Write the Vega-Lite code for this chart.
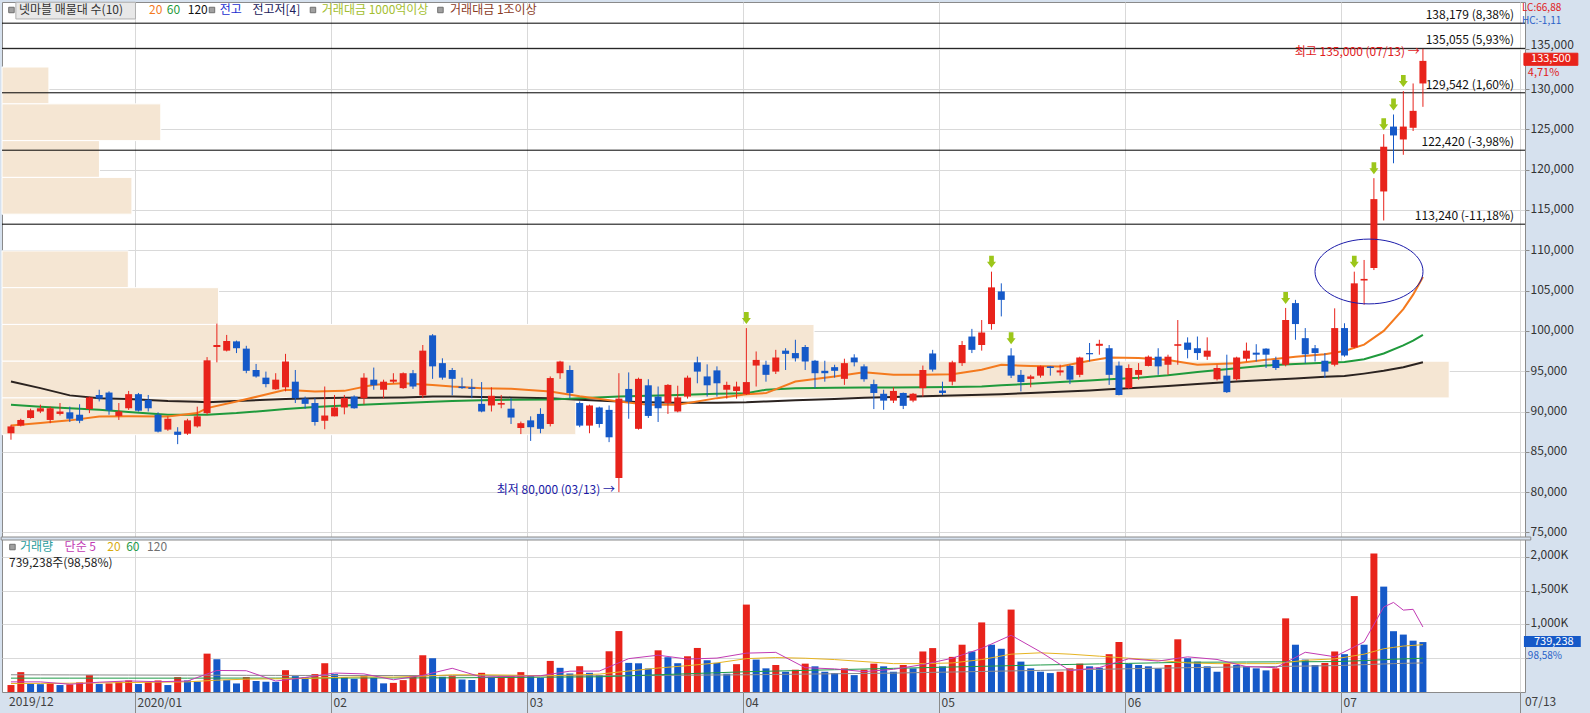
{
"$schema":"https://vega.github.io/schema/vega-lite/v6.json",
"width":1523,"height":690,
"autosize":{"type":"none"},
"padding":{"left":2,"top":2,"right":65,"bottom":21},
"background":"#d6e1ee",
"config":{
 "view":{"fill":"white","stroke":"#8a8a8a"},
 "font":"Noto Sans CJK KR",
 "axis":{"labelFont":"Noto Sans CJK KR","labelFontSize":12,"labelColor":"#333333","gridColor":"#d9d9d9","domainColor":"#8a8a8a","tickColor":"#8a8a8a"},
 "text":{"font":"Noto Sans CJK KR","fontSize":12}
},
"resolve":{"scale":{"x":"independent","y":"independent","color":"independent","fill":"independent","stroke":"independent"}},
"datasets":{
"k":[
{"n":0,"o":87300,"h":88350,"l":86500,"c":88150,"v":103},
{"n":1,"o":88250,"h":89100,"l":88150,"c":88950,"v":294},
{"n":2,"o":89200,"h":90350,"l":89100,"c":90150,"v":118},
{"n":3,"o":90000,"h":90850,"l":89800,"c":90400,"v":116},
{"n":4,"o":88950,"h":90600,"l":88550,"c":90400,"v":127},
{"n":5,"o":89700,"h":91050,"l":89500,"c":90000,"v":103},
{"n":6,"o":89900,"h":90600,"l":88700,"c":89100,"v":113},
{"n":7,"o":89600,"h":90900,"l":88550,"c":88850,"v":142},
{"n":8,"o":90300,"h":91850,"l":89800,"c":91750,"v":250},
{"n":9,"o":92050,"h":92700,"l":91250,"c":91600,"v":118},
{"n":10,"o":92350,"h":92500,"l":89600,"c":90150,"v":127},
{"n":11,"o":89450,"h":91050,"l":88950,"c":90000,"v":152},
{"n":12,"o":90400,"h":92550,"l":90200,"c":92150,"v":171},
{"n":13,"o":92150,"h":92300,"l":90000,"c":90100,"v":118},
{"n":14,"o":91450,"h":92050,"l":90000,"c":90400,"v":147},
{"n":15,"o":89600,"h":89900,"l":87400,"c":87500,"v":171},
{"n":16,"o":87750,"h":89400,"l":87600,"c":89100,"v":103},
{"n":17,"o":87500,"h":88050,"l":85950,"c":87100,"v":220},
{"n":18,"o":87250,"h":89100,"l":87100,"c":88900,"v":171},
{"n":19,"o":88150,"h":90600,"l":88000,"c":89400,"v":152},
{"n":20,"o":89800,"h":96750,"l":89600,"c":96350,"v":568},
{"n":21,"o":98000,"h":100900,"l":96100,"c":98250,"v":485},
{"n":22,"o":97550,"h":99500,"l":97450,"c":98750,"v":176},
{"n":23,"o":98700,"h":98800,"l":97250,"c":97850,"v":127},
{"n":24,"o":97800,"h":98150,"l":94750,"c":95050,"v":220},
{"n":25,"o":95150,"h":95900,"l":94200,"c":94350,"v":162},
{"n":26,"o":94200,"h":94950,"l":93000,"c":93400,"v":152},
{"n":27,"o":92750,"h":94750,"l":92700,"c":93950,"v":150},
{"n":28,"o":93000,"h":97150,"l":92500,"c":96200,"v":323},
{"n":29,"o":93700,"h":95150,"l":91050,"c":91650,"v":235},
{"n":30,"o":91600,"h":91850,"l":90350,"c":90950,"v":216},
{"n":31,"o":91050,"h":91650,"l":88250,"c":88700,"v":265},
{"n":32,"o":88850,"h":93100,"l":87800,"c":89500,"v":426},
{"n":33,"o":89400,"h":92050,"l":89400,"c":90500,"v":265},
{"n":34,"o":90500,"h":92050,"l":89650,"c":91650,"v":220},
{"n":35,"o":91850,"h":92000,"l":90350,"c":90400,"v":196},
{"n":36,"o":91650,"h":94750,"l":90900,"c":94200,"v":235},
{"n":37,"o":93950,"h":95450,"l":92700,"c":93250,"v":211},
{"n":38,"o":92700,"h":93950,"l":91650,"c":93700,"v":128},
{"n":39,"o":93700,"h":94750,"l":93500,"c":93950,"v":135},
{"n":40,"o":92900,"h":94850,"l":92800,"c":94750,"v":176},
{"n":41,"o":94750,"h":95150,"l":92800,"c":93100,"v":250},
{"n":42,"o":92000,"h":98250,"l":91650,"c":97550,"v":544},
{"n":43,"o":99450,"h":99600,"l":94050,"c":95600,"v":500},
{"n":44,"o":96000,"h":96600,"l":93950,"c":94200,"v":225},
{"n":45,"o":95150,"h":95400,"l":92000,"c":94050,"v":235},
{"n":46,"o":93100,"h":94200,"l":92800,"c":92900,"v":185},
{"n":47,"o":93000,"h":94050,"l":91650,"c":92800,"v":178},
{"n":48,"o":90950,"h":93650,"l":89900,"c":90000,"v":284},
{"n":49,"o":90750,"h":93000,"l":90000,"c":91950,"v":225},
{"n":50,"o":90850,"h":92050,"l":90400,"c":91050,"v":230},
{"n":51,"o":90350,"h":91650,"l":88450,"c":89250,"v":236},
{"n":52,"o":87950,"h":88750,"l":87200,"c":88550,"v":294},
{"n":53,"o":88900,"h":89400,"l":86350,"c":88050,"v":235},
{"n":54,"o":89700,"h":90400,"l":87300,"c":87850,"v":211},
{"n":55,"o":88450,"h":94350,"l":88150,"c":94150,"v":460},
{"n":56,"o":94750,"h":96300,"l":94050,"c":96200,"v":358},
{"n":57,"o":95150,"h":95700,"l":91650,"c":92300,"v":274},
{"n":58,"o":91050,"h":91250,"l":88050,"c":88250,"v":382},
{"n":59,"o":88250,"h":90850,"l":87300,"c":90750,"v":284},
{"n":60,"o":90500,"h":90600,"l":88000,"c":88450,"v":250},
{"n":61,"o":90200,"h":90750,"l":86200,"c":86800,"v":603},
{"n":62,"o":81750,"h":94750,"l":80000,"c":91600,"v":902},
{"n":63,"o":92800,"h":94850,"l":89100,"c":91250,"v":431},
{"n":64,"o":87850,"h":94200,"l":87750,"c":94050,"v":425},
{"n":65,"o":93250,"h":94000,"l":89200,"c":89450,"v":348},
{"n":66,"o":91850,"h":93100,"l":88700,"c":90400,"v":617},
{"n":67,"o":91050,"h":93400,"l":89700,"c":93300,"v":515},
{"n":68,"o":90000,"h":93200,"l":89900,"c":91750,"v":426},
{"n":69,"o":91850,"h":94450,"l":91600,"c":94200,"v":529},
{"n":70,"o":96100,"h":96800,"l":93500,"c":94950,"v":652},
{"n":71,"o":94350,"h":95850,"l":91850,"c":93250,"v":470},
{"n":72,"o":95100,"h":95600,"l":91850,"c":93500,"v":431},
{"n":73,"o":92700,"h":93700,"l":91600,"c":93300,"v":270},
{"n":74,"o":92550,"h":93700,"l":91600,"c":93100,"v":412},
{"n":75,"o":92150,"h":100350,"l":92050,"c":93650,"v":1294,"s":1},
{"n":76,"o":95700,"h":97450,"l":93100,"c":96400,"v":480},
{"n":77,"o":95800,"h":96300,"l":93700,"c":94550,"v":350},
{"n":78,"o":94950,"h":97650,"l":94650,"c":96700,"v":400},
{"n":79,"o":97550,"h":97850,"l":95150,"c":97150,"v":300},
{"n":80,"o":97250,"h":98900,"l":96200,"c":96600,"v":330},
{"n":81,"o":98000,"h":98250,"l":95150,"c":96200,"v":420},
{"n":82,"o":96300,"h":96400,"l":92900,"c":94750,"v":380},
{"n":83,"o":95050,"h":96300,"l":93700,"c":94750,"v":300},
{"n":84,"o":95500,"h":95800,"l":94200,"c":95050,"v":280},
{"n":85,"o":94050,"h":96550,"l":93300,"c":96000,"v":350},
{"n":86,"o":96700,"h":97100,"l":95600,"c":96100,"v":250},
{"n":87,"o":95600,"h":95850,"l":93700,"c":94000,"v":330},
{"n":88,"o":93400,"h":93950,"l":90300,"c":92300,"v":420},
{"n":89,"o":92200,"h":92700,"l":90200,"c":91350,"v":380},
{"n":90,"o":91350,"h":93000,"l":91050,"c":92550,"v":300},
{"n":91,"o":92300,"h":92350,"l":90300,"c":90700,"v":400},
{"n":92,"o":91350,"h":92300,"l":91150,"c":92200,"v":350},
{"n":93,"o":92900,"h":95700,"l":91850,"c":95150,"v":600},
{"n":94,"o":97200,"h":97650,"l":94950,"c":95200,"v":650},
{"n":95,"o":92600,"h":93700,"l":92050,"c":92300,"v":380},
{"n":96,"o":93700,"h":96300,"l":93250,"c":96100,"v":520},
{"n":97,"o":96000,"h":98750,"l":95650,"c":98250,"v":700},
{"n":98,"o":99300,"h":100250,"l":97250,"c":97650,"v":600},
{"n":99,"o":98250,"h":101350,"l":97550,"c":99800,"v":1030},
{"n":100,"o":100850,"h":107350,"l":100150,"c":105400,"v":700,"s":1},
{"n":101,"o":104900,"h":105900,"l":101800,"c":103850,"v":640},
{"n":102,"o":96950,"h":97850,"l":94150,"c":94450,"v":1220,"s":1},
{"n":103,"o":94550,"h":95150,"l":92500,"c":93650,"v":450},
{"n":104,"o":94050,"h":94550,"l":93000,"c":94350,"v":350},
{"n":105,"o":94450,"h":95700,"l":94200,"c":95600,"v":300},
{"n":106,"o":95600,"h":95650,"l":94450,"c":95400,"v":280},
{"n":107,"o":94850,"h":95800,"l":94450,"c":95100,"v":300},
{"n":108,"o":95650,"h":95800,"l":93400,"c":93950,"v":350},
{"n":109,"o":94550,"h":96800,"l":94250,"c":96700,"v":420},
{"n":110,"o":97250,"h":98500,"l":96200,"c":97100,"v":380},
{"n":111,"o":98150,"h":98900,"l":97050,"c":98400,"v":360},
{"n":112,"o":97850,"h":98250,"l":93300,"c":94550,"v":560},
{"n":113,"o":95700,"h":96200,"l":92000,"c":92050,"v":740},
{"n":114,"o":92900,"h":95850,"l":92800,"c":95400,"v":420},
{"n":115,"o":94550,"h":96000,"l":93950,"c":95150,"v":400},
{"n":116,"o":95650,"h":96950,"l":95600,"c":96800,"v":380},
{"n":117,"o":96800,"h":97850,"l":94550,"c":95600,"v":350},
{"n":118,"o":95800,"h":97050,"l":94550,"c":96800,"v":400},
{"n":119,"o":98150,"h":101350,"l":95800,"c":98350,"v":780},
{"n":120,"o":98550,"h":99200,"l":96600,"c":97650,"v":500},
{"n":121,"o":97850,"h":99300,"l":96400,"c":97250,"v":450},
{"n":122,"o":96800,"h":99200,"l":96400,"c":97550,"v":380},
{"n":123,"o":94000,"h":95800,"l":93850,"c":95400,"v":300},
{"n":124,"o":94450,"h":97050,"l":92300,"c":92400,"v":420},
{"n":125,"o":94000,"h":96800,"l":93850,"c":96700,"v":400},
{"n":126,"o":96550,"h":98550,"l":96200,"c":97550,"v":380},
{"n":127,"o":97300,"h":98350,"l":96200,"c":97050,"v":350},
{"n":128,"o":97800,"h":97850,"l":95400,"c":97050,"v":320},
{"n":129,"o":96400,"h":96800,"l":95150,"c":95400,"v":350},
{"n":130,"o":95800,"h":102850,"l":95600,"c":101350,"v":1090,"s":1},
{"n":131,"o":103450,"h":103850,"l":98900,"c":100850,"v":700},
{"n":132,"o":99100,"h":100350,"l":96000,"c":97100,"v":480},
{"n":133,"o":97850,"h":98250,"l":96200,"c":97250,"v":400},
{"n":134,"o":96300,"h":97250,"l":94150,"c":94950,"v":430},
{"n":135,"o":95800,"h":102800,"l":95600,"c":100350,"v":600},
{"n":136,"o":100350,"h":100950,"l":96800,"c":96950,"v":560},
{"n":137,"o":97950,"h":107350,"l":97850,"c":105900,"v":1420,"s":1},
{"n":138,"o":106250,"h":108800,"l":103250,"c":106450,"v":700},
{"n":139,"o":107800,"h":118950,"l":107550,"c":116350,"v":2050,"s":1},
{"n":140,"o":117300,"h":124400,"l":113700,"c":122850,"v":1560,"s":1},
{"n":141,"o":125350,"h":126850,"l":120800,"c":124250,"v":900,"s":1},
{"n":142,"o":123750,"h":129750,"l":121850,"c":125350,"v":850,"s":1},
{"n":143,"o":125200,"h":130700,"l":124800,"c":127300,"v":760},
{"n":144,"o":130700,"h":135000,"l":127800,"c":133500,"v":739}
],
"ma":[
{"n":0,"a20":88270,"a60":90830,"a120":93725},
{"n":3,"a20":88560,"a60":90600,"a120":92900},
{"n":6,"a20":88900,"a60":90400,"a120":92000},
{"n":9,"a20":89390,"a60":90210,"a120":91650},
{"n":12,"a20":89400,"a60":89950,"a120":91550},
{"n":16,"a20":89390,"a60":89590,"a120":91300},
{"n":19,"a20":89800,"a60":89590,"a120":91200},
{"n":20,"a20":90420,"a60":89590,"a120":91160},
{"n":23,"a20":91250,"a60":89800,"a120":91300},
{"n":26,"a20":92100,"a60":90100,"a120":91450},
{"n":28,"a20":92690,"a60":90300,"a120":91550},
{"n":31,"a20":92480,"a60":90550,"a120":91650},
{"n":34,"a20":92560,"a60":90750,"a120":91700},
{"n":37,"a20":93310,"a60":90900,"a120":91700},
{"n":40,"a20":93520,"a60":91040,"a120":91750},
{"n":43,"a20":93300,"a60":91200,"a120":91850},
{"n":45,"a20":93100,"a60":91300,"a120":91850},
{"n":48,"a20":92900,"a60":91400,"a120":91800},
{"n":51,"a20":92816,"a60":91450,"a120":91750},
{"n":55,"a20":92485,"a60":91500,"a120":91650},
{"n":58,"a20":91900,"a60":91650,"a120":91450},
{"n":62,"a20":91245,"a60":91865,"a120":91250},
{"n":65,"a20":90832,"a60":91950,"a120":91150},
{"n":68,"a20":90832,"a60":92050,"a120":91100},
{"n":72,"a20":91658,"a60":92200,"a120":91100},
{"n":75,"a20":92154,"a60":92278,"a120":91150},
{"n":77,"a20":92280,"a60":92700,"a120":91250},
{"n":80,"a20":93725,"a60":92900,"a120":91400},
{"n":84,"a20":94345,"a60":92950,"a120":91550},
{"n":87,"a20":94882,"a60":92980,"a120":91700},
{"n":90,"a20":94551,"a60":92980,"a120":91800},
{"n":93,"a20":94551,"a60":93000,"a120":91900},
{"n":96,"a20":94630,"a60":93050,"a120":92000},
{"n":99,"a20":95171,"a60":93105,"a120":92072},
{"n":101,"a20":95791,"a60":93250,"a120":92150},
{"n":104,"a20":95650,"a60":93450,"a120":92300},
{"n":107,"a20":95585,"a60":93650,"a120":92450},
{"n":110,"a20":96300,"a60":93850,"a120":92600},
{"n":112,"a20":96701,"a60":94000,"a120":92750},
{"n":115,"a20":96650,"a60":94200,"a120":92950},
{"n":118,"a20":96400,"a60":94500,"a120":93150},
{"n":121,"a20":95791,"a60":94900,"a120":93400},
{"n":125,"a20":96000,"a60":95378,"a120":93725},
{"n":128,"a20":96411,"a60":95700,"a120":93900},
{"n":131,"a20":96800,"a60":95900,"a120":94100},
{"n":134,"a20":97100,"a60":96050,"a120":94300},
{"n":136,"a20":97500,"a60":96150,"a120":94400},
{"n":138,"a20":98300,"a60":96494,"a120":94700},
{"n":140,"a20":100000,"a60":97200,"a120":95050},
{"n":142,"a20":102700,"a60":98200,"a120":95500},
{"n":143,"a20":104500,"a60":98800,"a120":95800},
{"n":144,"a20":106700,"a60":99500,"a120":96100}
],
"vm":[
{"n":0,"m5":150,"m20":125,"m60":205,"m120":255},
{"n":3,"m5":150,"m20":128,"m60":205,"m120":254},
{"n":6,"m5":115,"m20":130,"m60":205,"m120":253},
{"n":9,"m5":145,"m20":135,"m60":205,"m120":252},
{"n":12,"m5":164,"m20":140,"m60":205,"m120":251},
{"n":15,"m5":152,"m20":145,"m60":205,"m120":250},
{"n":18,"m5":162,"m20":150,"m60":205,"m120":249},
{"n":21,"m5":319,"m20":175,"m60":206,"m120":248},
{"n":24,"m5":315,"m20":190,"m60":206,"m120":247},
{"n":27,"m5":162,"m20":195,"m60":206,"m120":246},
{"n":30,"m5":215,"m20":200,"m60":206,"m120":245},
{"n":33,"m5":281,"m20":215,"m60":207,"m120":245},
{"n":36,"m5":268,"m20":225,"m60":208,"m120":244},
{"n":39,"m5":181,"m20":220,"m60":208,"m120":244},
{"n":42,"m5":247,"m20":235,"m60":209,"m120":243},
{"n":45,"m5":351,"m20":255,"m60":210,"m120":243},
{"n":48,"m5":221,"m20":255,"m60":213,"m120":242},
{"n":51,"m5":231,"m20":250,"m60":216,"m120":242},
{"n":54,"m5":241,"m20":240,"m60":219,"m120":241},
{"n":57,"m5":308,"m20":250,"m60":222,"m120":241},
{"n":60,"m5":310,"m20":265,"m60":225,"m120":240},
{"n":63,"m5":494,"m20":310,"m60":240,"m120":243},
{"n":66,"m5":545,"m20":355,"m60":255,"m120":246},
{"n":69,"m5":487,"m20":390,"m60":270,"m120":249},
{"n":72,"m5":502,"m20":430,"m60":285,"m120":252},
{"n":75,"m5":575,"m20":494,"m60":300,"m120":255},
{"n":78,"m5":587,"m20":510,"m60":310,"m120":260},
{"n":81,"m5":360,"m20":500,"m60":320,"m120":265},
{"n":84,"m5":342,"m20":480,"m60":330,"m120":270},
{"n":87,"m5":302,"m20":450,"m60":340,"m120":275},
{"n":90,"m5":336,"m20":420,"m60":350,"m120":280},
{"n":93,"m5":406,"m20":420,"m60":360,"m120":288},
{"n":96,"m5":500,"m20":430,"m60":370,"m120":296},
{"n":99,"m5":646,"m20":480,"m60":380,"m120":304},
{"n":102,"m5":840,"m20":560,"m60":390,"m120":312},
{"n":105,"m5":594,"m20":580,"m60":400,"m120":320},
{"n":108,"m5":316,"m20":560,"m60":408,"m120":328},
{"n":111,"m5":362,"m20":530,"m60":416,"m120":336},
{"n":114,"m5":492,"m20":500,"m60":424,"m120":344},
{"n":117,"m5":458,"m20":470,"m60":432,"m120":352},
{"n":120,"m5":520,"m20":430,"m60":440,"m120":360},
{"n":123,"m5":482,"m20":420,"m60":442,"m120":366},
{"n":126,"m5":376,"m20":420,"m60":444,"m120":372},
{"n":129,"m5":360,"m20":420,"m60":446,"m120":378},
{"n":132,"m5":588,"m20":470,"m60":448,"m120":384},
{"n":135,"m5":522,"m20":490,"m60":450,"m120":390},
{"n":138,"m5":742,"m20":560,"m60":465,"m120":405},
{"n":140,"m5":1258,"m20":640,"m60":478,"m120":415},
{"n":141,"m5":1326,"m20":660,"m60":485,"m120":420},
{"n":142,"m5":1212,"m20":680,"m60":490,"m120":424},
{"n":143,"m5":1224,"m20":690,"m60":495,"m120":427},
{"n":144,"m5":962,"m20":700,"m60":500,"m120":430}
],
"prof":[
{"lo":128611,"hi":133251,"pct":1.3},
{"lo":123983,"hi":128611,"pct":4.4},
{"lo":119355,"hi":123983,"pct":2.7},
{"lo":114727,"hi":119355,"pct":3.6},
{"lo":105471,"hi":110099,"pct":3.5},
{"lo":100844,"hi":105471,"pct":6.0},
{"lo":96216,"hi":100844,"pct":22.5},
{"lo":91588,"hi":96216,"pct":40.1},
{"lo":86960,"hi":91588,"pct":15.9}
],
"lv":[
{"n":153.3,"p":138179,"t":"138,179 (8,38%)"},
{"n":153.3,"p":135055,"t":"135,055 (5,93%)"},
{"n":153.3,"p":129542,"t":"129,542 (1,60%)"},
{"n":153.3,"p":122420,"t":"122,420 (-3,98%)"},
{"n":153.3,"p":113240,"t":"113,240 (-11,18%)"}
],
"ell":[{"n":138.5,"p":107370}],
"sep":[{"n1":-1,"n2":155,"p1":74057,"p2":74429}],
"bx":[
{"n1":0.5,"n2":12.7,"p1":138700,"p2":140780,"k":"hdr"},
{"n1":154.3,"n2":159.8,"p1":132950,"p2":134450,"k":"cur"}
],
"bp":[
{"n":0.05,"p":139814},
{"n":20.5,"p":139814},
{"n":30.8,"p":139814},
{"n":43.8,"p":139814}
],
"tp":[
{"n":143.67,"p":134603,"t":"최고 135,000 (07/13) →","k":"red","a":"r"},
{"n":61.6,"p":80261,"t":"최저 80,000 (03/13) →","k":"navy","a":"r"},
{"n":0.81,"p":139814,"t":"넷마블 매물대 수(10)","k":"dk","a":"l"},
{"n":14.08,"p":139814,"t":"20","k":"o20","a":"l"},
{"n":15.9,"p":139814,"t":"60","k":"g60","a":"l"},
{"n":18.03,"p":139814,"t":"120","k":"blk","a":"l"},
{"n":21.28,"p":139814,"t":"전고","k":"blue","a":"l"},
{"n":24.62,"p":139814,"t":"전고저[4]","k":"dnav","a":"l"},
{"n":31.7,"p":139814,"t":"거래대금 1000억이상","k":"yg","a":"l"},
{"n":44.78,"p":139814,"t":"거래대금 1조이상","k":"brn","a":"l"},
{"n":154.1,"p":140062,"t":"LC:66,88","k":"red","a":"t"},
{"n":154.1,"p":138449,"t":"HC:-1,11","k":"hcb","a":"t"},
{"n":154.7,"p":132050,"t":"4,71%","k":"red","a":"s"},
{"n":157.05,"p":133700,"t":"133,500","k":"wht","a":"c"}
],
"bv":[{"n1":154.3,"n2":160.1,"p1":665,"p2":828}],
"bvb":[{"n":0.15,"p":2146}],
"tv":[
{"n":0.91,"p":2146,"t":"거래량","k":"teal","a":"l"},
{"n":5.47,"p":2146,"t":"단순 5","k":"mag","a":"l"},
{"n":9.83,"p":2146,"t":"20","k":"yel","a":"l"},
{"n":11.75,"p":2146,"t":"60","k":"grn","a":"l"},
{"n":13.88,"p":2146,"t":"120","k":"gry","a":"l"},
{"n":-0.2,"p":1914,"t":"739,238주(98,58%)","k":"blk","a":"l"},
{"n":157.35,"p":746,"t":"739,238","k":"wht","a":"c"},
{"n":154.7,"p":540,"t":"98,58%","k":"vblue","a":"t"},
{"n":154.4,"p":-146,"t":"07/13","k":"axl","a":"l"},
{"n":-0.2,"p":-146,"t":"2019/12","k":"axl","a":"l"}
]
},
"layer":[
 {"data":{"name":"prof"},
  "mark":{"type":"bar","orient":"horizontal","fill":"#f5e6d3","stroke":"white","strokeWidth":1},
  "encoding":{
   "x":{"field":"pct","type":"quantitative","title":null,"scale":{"domain":[0,42.2],"nice":false},"axis":null},
   "y":{"field":"lo","type":"quantitative","title":null,"scale":{"domain":[55199,140806],"nice":false,"zero":false},"axis":null},
   "y2":{"field":"hi"}
  }},
 {"resolve":{"scale":{"color":"independent","fill":"independent","stroke":"independent"}},
  "layer":[
   {"data":{"name":"lv"},"mark":{"type":"rule","color":"#000000","strokeWidth":1},
    "encoding":{"y":{"field":"p","type":"quantitative","title":null,"scale":{"domain":[55199,140806],"nice":false,"zero":false},
      "axis":{"orient":"right","values":[75000,80000,85000,90000,95000,100000,105000,110000,115000,120000,125000,130000,135000],"labelExpr":"format(datum.value, ',')","labelOffset":{"condition":{"test":"datum.value == 135000","value":-4},"value":-1},"grid":true,"tickSize":4,"labelPadding":1,"domain":false,"title":null}}}},
   {"data":{"name":"lv"},"mark":{"type":"text","align":"right","baseline":"middle","dy":-8,"color":"#111111"},
    "encoding":{"x":{"field":"n","type":"quantitative","title":null},"y":{"field":"p","type":"quantitative","title":null},"text":{"field":"t"}}},
   {"data":{"name":"ma"},"transform":[{"fold":["a120","a60","a20"],"as":["k","val"]}],
    "mark":{"type":"line","strokeWidth":2},
    "encoding":{"x":{"field":"n","type":"quantitative","title":null},"y":{"field":"val","type":"quantitative","title":null},
     "color":{"field":"k","type":"nominal","scale":{"domain":["a120","a60","a20"],"range":["#2b2320","#1f9a3c","#f47a1e"]},"legend":null}}},
   {"data":{"name":"k"},"mark":{"type":"rule","strokeWidth":1},
    "encoding":{
     "x":{"field":"n","type":"quantitative","title":null,"scale":{"domain":[-0.405,153.9],"nice":false,"zero":false},"axis":null},
     "y":{"field":"l","type":"quantitative","title":null},"y2":{"field":"h"},
     "color":{"condition":{"test":"datum.c >= datum.o","value":"#e8231b"},"value":"#1559c8"}}},
   {"data":{"name":"k"},"mark":{"type":"bar","size":7},
    "encoding":{"x":{"field":"n","type":"quantitative","title":null},
     "y":{"field":"o","type":"quantitative","title":null},"y2":{"field":"c"},
     "color":{"condition":{"test":"datum.c >= datum.o","value":"#e8231b"},"value":"#1559c8"}}},
   {"data":{"name":"k"},"transform":[{"filter":"datum.s == 1"}],
    "mark":{"type":"point","shape":"M -0.39 -1 L 0.39 -1 L 0.39 0 L 0.75 0 L 0 1 L -0.75 0 L -0.39 0 Z","size":144,"filled":true,"color":"#9cc61a","opacity":1,"yOffset":-10},
    "encoding":{"x":{"field":"n","type":"quantitative","title":null},"y":{"field":"h","type":"quantitative","title":null}}},
   {"data":{"name":"ell"},
    "mark":{"type":"point","shape":"M -1 0 A 1 0.6 0 1 1 1 0 A 1 0.6 0 1 1 -1 0 Z","size":11664,"filled":false,"stroke":"#1c1caa","strokeWidth":1,"opacity":1},
    "encoding":{"x":{"field":"n","type":"quantitative","title":null},"y":{"field":"p","type":"quantitative","title":null}}},
   {"data":{"name":"sep"},"mark":{"type":"rect","fill":"#d6e1ee","stroke":"#8a8a8a","strokeWidth":1},
    "encoding":{"x":{"field":"n1","type":"quantitative","title":null},"x2":{"field":"n2"},"y":{"field":"p1","type":"quantitative","title":null},"y2":{"field":"p2"}}},
   {"data":{"name":"bx"},"mark":{"type":"rect","strokeWidth":1},
    "encoding":{"x":{"field":"n1","type":"quantitative","title":null},"x2":{"field":"n2"},
     "y":{"field":"p1","type":"quantitative","title":null},"y2":{"field":"p2"},
     "fill":{"field":"k","type":"nominal","scale":{"domain":["hdr","cur"],"range":["#e8e8e8","#e8231b"]},"legend":null},
     "stroke":{"field":"k","type":"nominal","scale":{"domain":["hdr","cur"],"range":["#b0b0b0","#e8231b"]},"legend":null}}},
   {"data":{"name":"bp"},"mark":{"type":"point","shape":"square","size":30,"filled":true,"color":"#a0a0a0","stroke":"#707070","strokeWidth":1,"opacity":1},
    "encoding":{"x":{"field":"n","type":"quantitative","title":null},"y":{"field":"p","type":"quantitative","title":null}}},
   {"data":{"name":"tp"},"transform":[{"filter":"datum.a == 'r'"}],
    "mark":{"type":"text","align":"right","baseline":"middle"},
    "encoding":{"x":{"field":"n","type":"quantitative","title":null},"y":{"field":"p","type":"quantitative","title":null},"text":{"field":"t"},
     "color":{"field":"k","type":"nominal","legend":null,"scale":{"domain":["red","navy","dk","o20","g60","blk","blue","dnav","yg","brn","hcb","wht"],"range":["#e0201c","#1a1aa6","#333333","#f47a1e","#1f9a3c","#111111","#1a2fd0","#20205a","#a3be2e","#8a3b1f","#2a62c8","#ffffff"]}}}},
   {"data":{"name":"tp"},"transform":[{"filter":"datum.a == 'l'"}],
    "mark":{"type":"text","align":"left","baseline":"middle"},
    "encoding":{"x":{"field":"n","type":"quantitative","title":null},"y":{"field":"p","type":"quantitative","title":null},"text":{"field":"t"},
     "color":{"field":"k","type":"nominal","legend":null,"scale":{"domain":["red","navy","dk","o20","g60","blk","blue","dnav","yg","brn","hcb","wht"],"range":["#e0201c","#1a1aa6","#333333","#f47a1e","#1f9a3c","#111111","#1a2fd0","#20205a","#a3be2e","#8a3b1f","#2a62c8","#ffffff"]}}}},
   {"data":{"name":"tp"},"transform":[{"filter":"datum.a == 's'"}],
    "mark":{"type":"text","align":"left","baseline":"middle","fontSize":11},
    "encoding":{"x":{"field":"n","type":"quantitative","title":null},"y":{"field":"p","type":"quantitative","title":null},"text":{"field":"t"},
     "color":{"field":"k","type":"nominal","legend":null,"scale":{"domain":["red","navy","dk","o20","g60","blk","blue","dnav","yg","brn","hcb","wht"],"range":["#e0201c","#1a1aa6","#333333","#f47a1e","#1f9a3c","#111111","#1a2fd0","#20205a","#a3be2e","#8a3b1f","#2a62c8","#ffffff"]}}}},
   {"data":{"name":"tp"},"transform":[{"filter":"datum.a == 't'"}],
    "mark":{"type":"text","align":"left","baseline":"middle","fontSize":10},
    "encoding":{"x":{"field":"n","type":"quantitative","title":null},"y":{"field":"p","type":"quantitative","title":null},"text":{"field":"t"},
     "color":{"field":"k","type":"nominal","legend":null,"scale":{"domain":["red","navy","dk","o20","g60","blk","blue","dnav","yg","brn","hcb","wht"],"range":["#e0201c","#1a1aa6","#333333","#f47a1e","#1f9a3c","#111111","#1a2fd0","#20205a","#a3be2e","#8a3b1f","#2a62c8","#ffffff"]}}}},
   {"data":{"name":"tp"},"transform":[{"filter":"datum.a == 'c'"}],
    "mark":{"type":"text","align":"center","baseline":"middle","fontSize":11},
    "encoding":{"x":{"field":"n","type":"quantitative","title":null},"y":{"field":"p","type":"quantitative","title":null},"text":{"field":"t"},
     "color":{"field":"k","type":"nominal","legend":null,"scale":{"domain":["red","navy","dk","o20","g60","blk","blue","dnav","yg","brn","hcb","wht"],"range":["#e0201c","#1a1aa6","#333333","#f47a1e","#1f9a3c","#111111","#1a2fd0","#20205a","#a3be2e","#8a3b1f","#2a62c8","#ffffff"]}}}}
  ]},
 {"resolve":{"scale":{"color":"independent"}},
  "layer":[
   {"data":{"name":"k"},
    "transform":[{"window":[{"op":"lag","field":"v","as":"pv"}],"sort":[{"field":"n"}]}],
    "mark":{"type":"bar","size":7},
    "encoding":{
     "x":{"field":"n","type":"quantitative","title":null,"scale":{"domain":[-0.405,153.9],"nice":false,"zero":false},
          "axis":{"orient":"bottom","values":[12.65,32.65,52.65,74.65,94.65,113.65,135.65,153.9],
                  "labelExpr":"datum.value < 13 ? '2020/01' : datum.value < 33 ? '02' : datum.value < 53 ? '03' : datum.value < 75 ? '04' : datum.value < 95 ? '05' : datum.value < 114 ? '06' : datum.value < 140 ? '07' : ''",
                  "grid":true,"tickSize":21,"labelPadding":-11,"labelBaseline":"middle","labelAlign":"left","labelOffset":2,"labelFlush":false,"labelOverlap":false,"labelBound":false,"domain":false,"title":null,"labelColor":"#404040"}},
     "y":{"field":"v","type":"quantitative","title":null,"scale":{"domain":[0,10214],"nice":false},
          "axis":{"orient":"right","values":[500,1000,1500,2000],"labelExpr":"datum.value == 500 ? '' : format(datum.value, ',') + 'K'","labelOffset":-2,"grid":true,"tickSize":4,"labelPadding":1,"domain":false,"title":null}},
     "color":{"condition":{"test":"datum.pv == null || datum.v > datum.pv","value":"#e8231b"},"value":"#1559c8"}}},
   {"data":{"name":"vm"},"transform":[{"fold":["m120","m60","m20","m5"],"as":["k","val"]}],
    "mark":{"type":"line","strokeWidth":1},
    "encoding":{"x":{"field":"n","type":"quantitative","title":null},"y":{"field":"val","type":"quantitative","title":null},
     "color":{"field":"k","type":"nominal","legend":null,"scale":{"domain":["m120","m60","m20","m5"],"range":["#8c8c8c","#1f9a48","#e6b422","#c23bb4"]}}}},
   {"data":{"name":"bv"},"mark":{"type":"rect","fill":"#1559c8"},
    "encoding":{"x":{"field":"n1","type":"quantitative","title":null},"x2":{"field":"n2"},"y":{"field":"p1","type":"quantitative","title":null},"y2":{"field":"p2"}}},
   {"data":{"name":"bvb"},"mark":{"type":"point","shape":"square","size":30,"filled":true,"color":"#a0a0a0","stroke":"#707070","strokeWidth":1,"opacity":1},
    "encoding":{"x":{"field":"n","type":"quantitative","title":null},"y":{"field":"p","type":"quantitative","title":null}}},
   {"data":{"name":"tv"},"transform":[{"filter":"datum.a == 'l'"}],
    "mark":{"type":"text","align":"left","baseline":"middle"},
    "encoding":{"x":{"field":"n","type":"quantitative","title":null},"y":{"field":"p","type":"quantitative","title":null},"text":{"field":"t"},
     "color":{"field":"k","type":"nominal","legend":null,"scale":{"domain":["teal","mag","yel","grn","gry","blk","wht","vblue","axl"],"range":["#2a9d9d","#c23bb4","#d8ac10","#1f9a48","#707070","#222222","#ffffff","#2a62c8","#404040"]}}}},
   {"data":{"name":"tv"},"transform":[{"filter":"datum.a == 't'"}],
    "mark":{"type":"text","align":"left","baseline":"middle","fontSize":10},
    "encoding":{"x":{"field":"n","type":"quantitative","title":null},"y":{"field":"p","type":"quantitative","title":null},"text":{"field":"t"},
     "color":{"field":"k","type":"nominal","legend":null,"scale":{"domain":["teal","mag","yel","grn","gry","blk","wht","vblue","axl"],"range":["#2a9d9d","#c23bb4","#d8ac10","#1f9a48","#707070","#222222","#ffffff","#2a62c8","#404040"]}}}},
   {"data":{"name":"tv"},"transform":[{"filter":"datum.a == 'c'"}],
    "mark":{"type":"text","align":"center","baseline":"middle","fontSize":11},
    "encoding":{"x":{"field":"n","type":"quantitative","title":null},"y":{"field":"p","type":"quantitative","title":null},"text":{"field":"t"},
     "color":{"field":"k","type":"nominal","legend":null,"scale":{"domain":["teal","mag","yel","grn","gry","blk","wht","vblue","axl"],"range":["#2a9d9d","#c23bb4","#d8ac10","#1f9a48","#707070","#222222","#ffffff","#2a62c8","#404040"]}}}}
  ]}
]
}
